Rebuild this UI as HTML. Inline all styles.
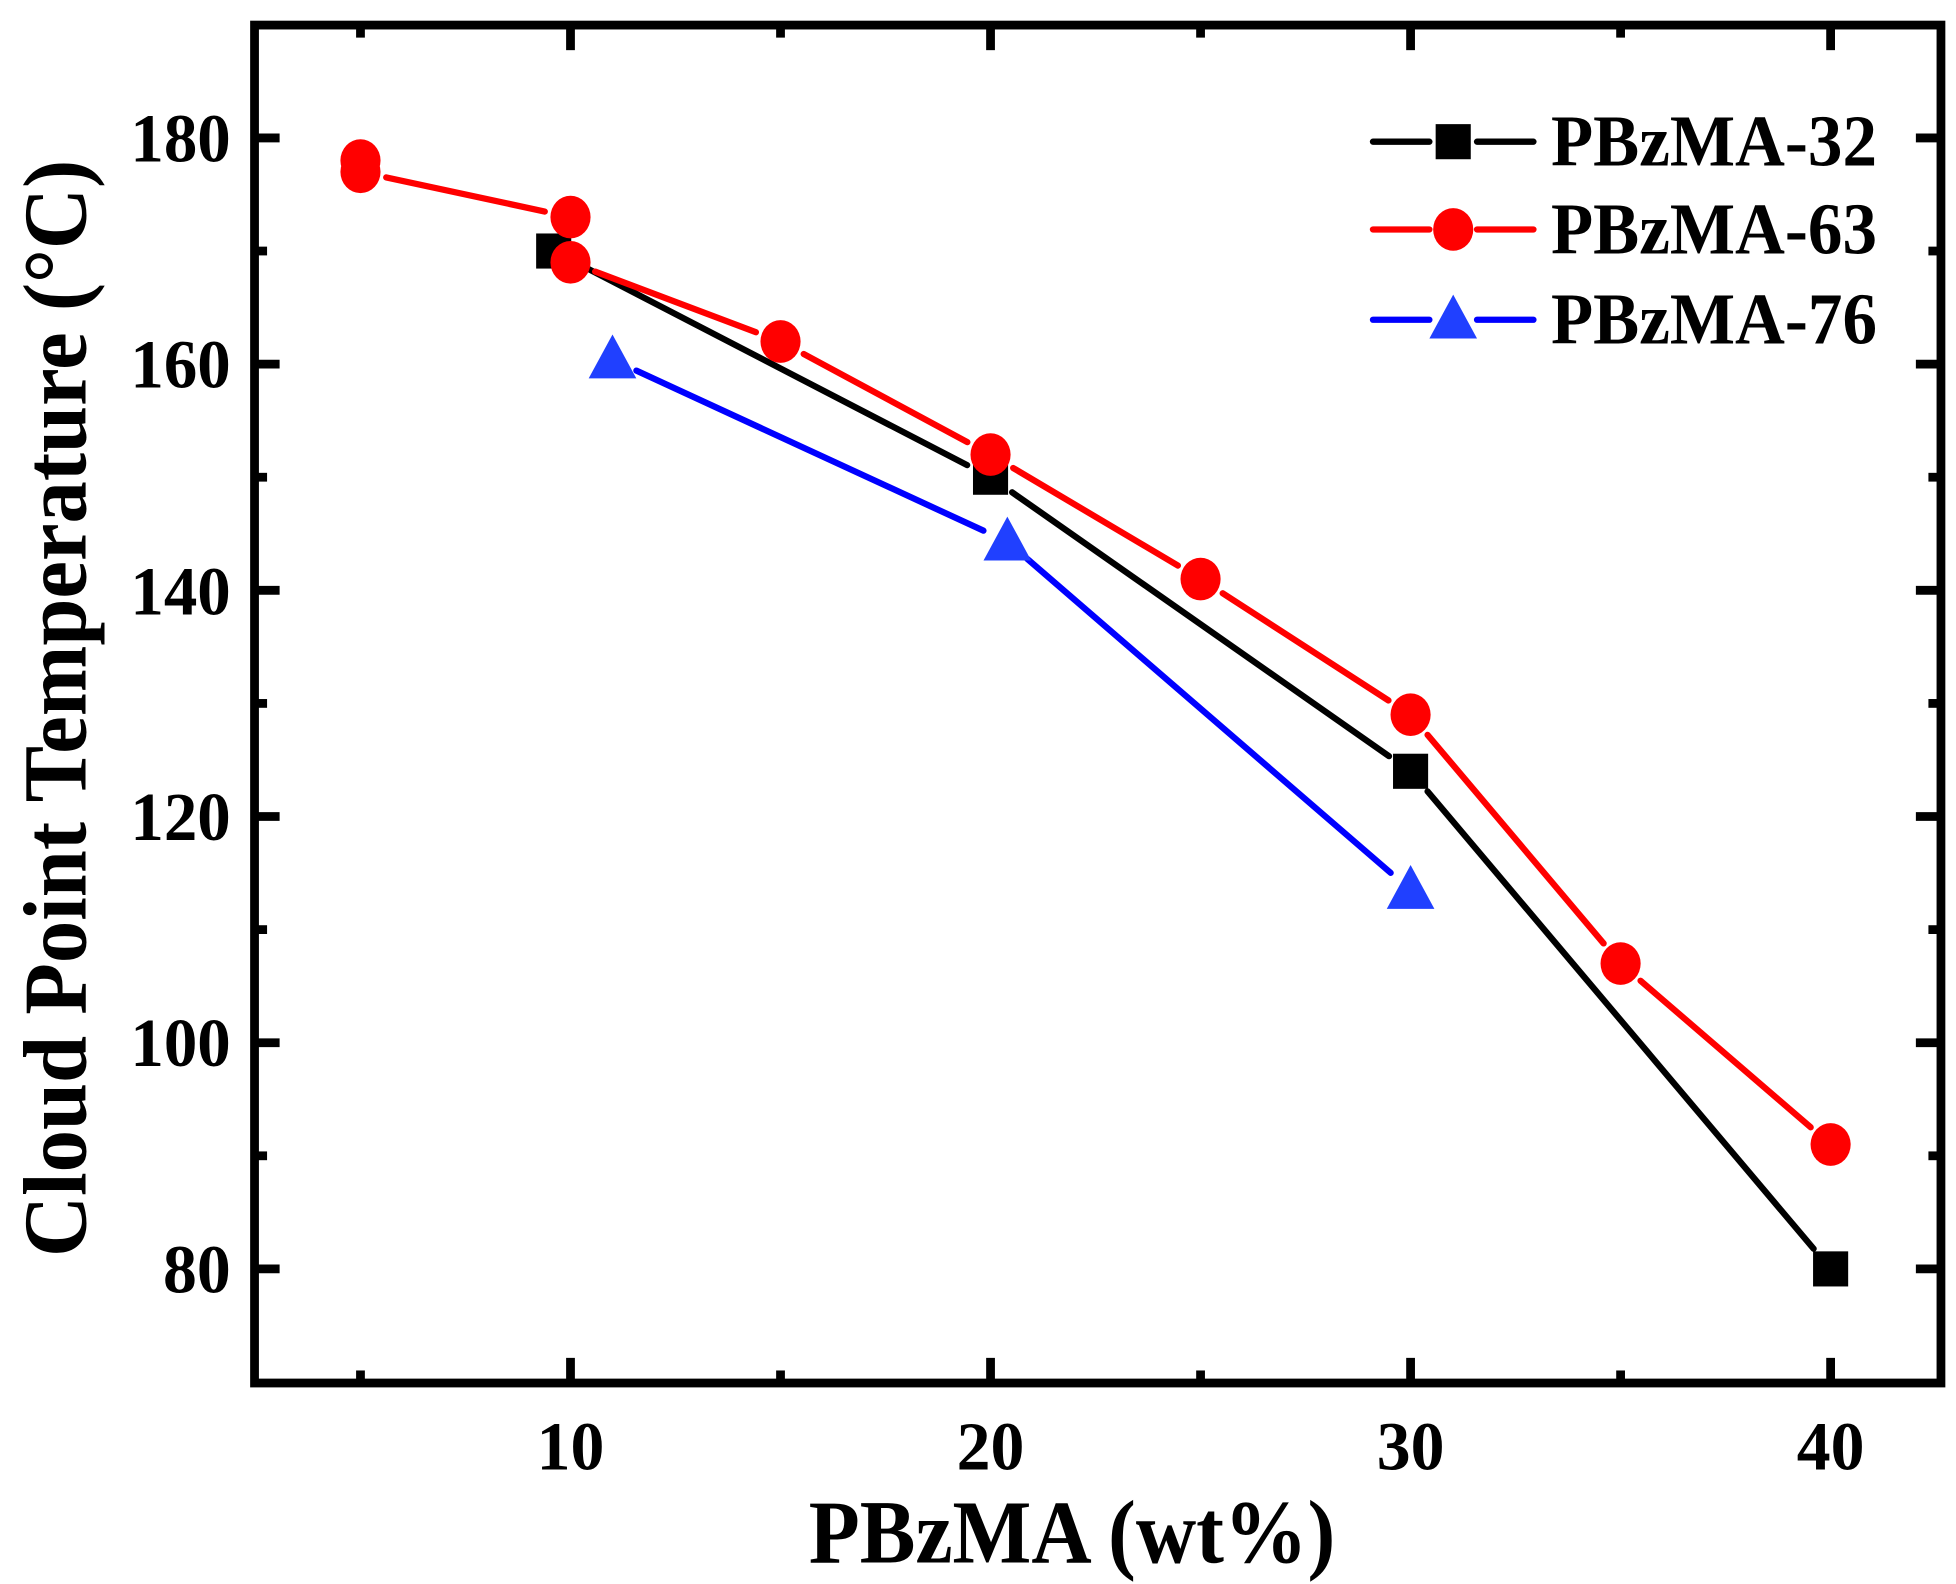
<!DOCTYPE html>
<html><head><meta charset="utf-8"><style>
html,body{margin:0;padding:0;background:#fff;}
svg{display:block;}
text{font-family:"Liberation Serif","Times New Roman",serif;font-weight:bold;fill:#000;}
</style></head><body>
<svg id="s" width="1956" height="1584" viewBox="0 0 1560 1263.3" preserveAspectRatio="none" xmlns="http://www.w3.org/2000/svg">
<rect x="0" y="0" width="1560" height="1264" fill="#fff"/>
<g id="plot"></g>
<rect x="203" y="20" width="1345" height="1083" fill="none" stroke="#000" stroke-width="7"/>
<g id="ticks" stroke="#000" stroke-width="7"></g>
<g font-size="55" text-anchor="end">
<text x="184" y="129" textLength="80" lengthAdjust="spacingAndGlyphs">180</text>
<text x="184" y="309" textLength="80" lengthAdjust="spacingAndGlyphs">160</text>
<text x="184" y="490" textLength="80" lengthAdjust="spacingAndGlyphs">140</text>
<text x="184" y="670" textLength="80" lengthAdjust="spacingAndGlyphs">120</text>
<text x="184" y="850" textLength="80" lengthAdjust="spacingAndGlyphs">100</text>
<text x="184" y="1031" textLength="54" lengthAdjust="spacingAndGlyphs">80</text>
</g>
<g font-size="55" text-anchor="middle">
<text x="455" y="1172" textLength="54" lengthAdjust="spacingAndGlyphs">10</text>
<text x="790" y="1172" textLength="54" lengthAdjust="spacingAndGlyphs">20</text>
<text x="1125" y="1172" textLength="54" lengthAdjust="spacingAndGlyphs">30</text>
<text x="1460" y="1172" textLength="54" lengthAdjust="spacingAndGlyphs">40</text>
</g>
<text x="855" y="1246" font-size="72" text-anchor="middle" textLength="420" lengthAdjust="spacingAndGlyphs">PBzMA (wt%)</text>
<text transform="translate(68,565) rotate(-90)" font-size="72" text-anchor="middle" textLength="875" lengthAdjust="spacingAndGlyphs">Cloud Point Temperature (°C)</text>
<g id="legend"></g>
<g font-size="58">
<text x="1237" y="132" textLength="260" lengthAdjust="spacingAndGlyphs">PBzMA-32</text>
<text x="1237" y="202" textLength="260" lengthAdjust="spacingAndGlyphs">PBzMA-63</text>
<text x="1237" y="274" textLength="260" lengthAdjust="spacingAndGlyphs">PBzMA-76</text>
</g>
</svg>
<script>
const NS="http://www.w3.org/2000/svg";
const X=v=>120+33.5*v, Y=v=>1012-(v-80)*9.02;
function el(p,t,a){const e=document.createElementNS(NS,t);for(const k in a)e.setAttribute(k,a[k]);p.appendChild(e);return e;}
const tk=document.getElementById('ticks');
for(let v=5;v<=40;v+=5){const maj=v%10==0,L=maj?20:10;
 el(tk,'line',{x1:X(v),y1:1103,x2:X(v),y2:1103-L});el(tk,'line',{x1:X(v),y1:20,x2:X(v),y2:20+L});}
for(let v=80;v<=180;v+=10){const maj=v%20==0,L=maj?20:10;
 el(tk,'line',{x1:203,y1:Y(v),x2:203+L,y2:Y(v)});el(tk,'line',{x1:1548,y1:Y(v),x2:1548-L,y2:Y(v)});}
const P=document.getElementById('plot');
const series=[
 {c:'#000',f:'#000',m:'sq',d:[[9.6,170],[20,150],[30,124],[40,80]]},
 {c:'#f00',f:'#f00',m:'ci',d:[[5,178],[5,177],[10,173],[10,169],[15,162],[20,152],[25,141],[30,129],[35,107],[40,91]]},
 {c:'#00f',f:'#2040ff',m:'tr',d:[[11,160.4],[20.4,144.3],[30,113.5]]}];
function marker(g,m,x,y,f){
 if(m=='sq')el(g,'rect',{x:x-14,y:y-14,width:28,height:28,fill:f});
 else if(m=='ci')el(g,'ellipse',{cx:x,cy:y,rx:16,ry:17,fill:f});
 else el(g,'polygon',{points:`${x},${y-20} ${x+19},${y+15} ${x-19},${y+15}`,fill:f});}
const gap=21;
series.forEach(s=>{const pts=s.d.map(p=>[X(p[0]),Y(p[1])]);
 for(let i=0;i<pts.length-1;i++){const[a,b]=[pts[i],pts[i+1]];const dx=b[0]-a[0],dy=b[1]-a[1],L=Math.hypot(dx,dy);
  if(L<2*gap+2)continue;const ux=dx/L,uy=dy/L;
  el(P,'line',{x1:a[0]+ux*gap,y1:a[1]+uy*gap,x2:b[0]-ux*gap,y2:b[1]-uy*gap,stroke:s.c,'stroke-width':5,'stroke-linecap':'round'});}
 pts.forEach(p=>marker(P,s.m,p[0],p[1],s.f));});
const lg=document.getElementById('legend');
[[113,series[0]],[183,series[1]],[255,series[2]]].forEach(([y,s])=>{
 el(lg,'line',{x1:1095,y1:y,x2:1140,y2:y,stroke:s.c,'stroke-width':5,'stroke-linecap':'round'});
 el(lg,'line',{x1:1178,y1:y,x2:1223,y2:y,stroke:s.c,'stroke-width':5,'stroke-linecap':'round'});
 marker(lg,s.m,1159,y,s.f);});
</script>
</body></html>
